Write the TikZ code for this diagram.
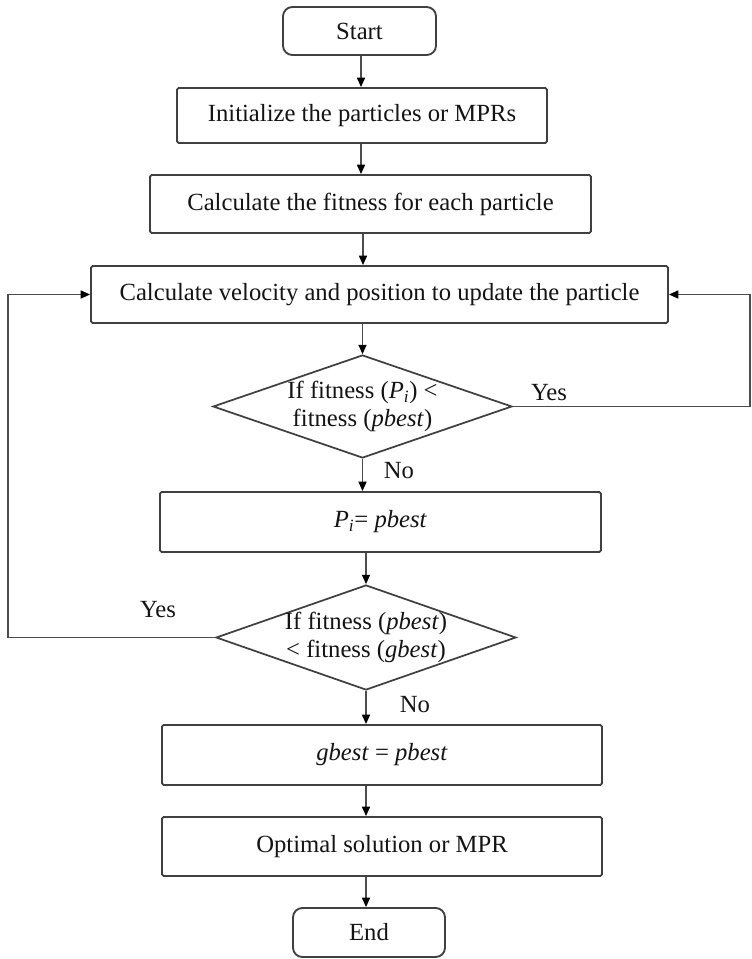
\documentclass[tikz,border=0pt]{standalone}
\usepackage{fontspec}
\setmainfont{Liberation Serif}
\usetikzlibrary{shapes.geometric,arrows.meta}
\newdimen\pxu \pxu=0.75pt
\tikzset{
  every node/.style={font=\fontsize{18.5}{21}\selectfont, text=black!92},
  procbox/.style={draw=black!75, line width=1.4pt, rectangle, rounded corners=1.2pt, fill=white, inner sep=0pt, align=center},
  termbox/.style={draw=black!75, line width=1.4pt, rectangle, rounded corners=7pt, fill=white, inner sep=0pt, align=center},
  decbox/.style={draw=black!75, line width=1.3pt, diamond, fill=white, inner sep=0pt},
  conn/.style={draw=black!70, line width=1.1pt, -{Triangle[length=7pt,width=6pt,fill=black,color=black]}},
  lbl/.style={inner sep=0pt}
}
\newcommand{\itP}{\textit{P}\textsubscript{\textit{i}}}
\begin{document}
\begin{tikzpicture}[x=0.75pt,y=-0.75pt]
\useasboundingbox (0,0) rectangle (752,959);
% nodes
\node[termbox, minimum width=153\pxu, minimum height=48\pxu] (start) at (359.5,31) {Start};
\node[procbox, minimum width=370\pxu, minimum height=55\pxu] (init) at (362,115.5) {Initialize the particles or MPRs};
\node[procbox, minimum width=441\pxu, minimum height=58\pxu] (fit) at (370.5,204) {Calculate the fitness for each particle};
\node[procbox, minimum width=577\pxu, minimum height=57\pxu] (vel) at (379.5,294.5) {Calculate velocity and position to update the particle};
\node[decbox, minimum width=299\pxu, minimum height=103\pxu,
      label={[align=center, inner sep=0pt]center:{If fitness (\itP) <\\fitness (\textit{pbest})}}] (d1) at (362.5,406.5) {};
\node[procbox, minimum width=441\pxu, minimum height=60\pxu] (pi) at (380.5,522) {\itP= \textit{pbest}};
\node[decbox, minimum width=300\pxu, minimum height=105\pxu,
      label={[align=center, inner sep=0pt]center:{If fitness (\textit{pbest})\\< fitness (\textit{gbest})}}] (d2) at (366,637.5) {};
\node[procbox, minimum width=440\pxu, minimum height=60\pxu] (gb) at (382,755) {\textit{gbest} = \textit{pbest}};
\node[procbox, minimum width=440\pxu, minimum height=59\pxu] (opt) at (382,846.5) {Optimal solution or MPR};
\node[termbox, minimum width=152\pxu, minimum height=49\pxu] (end) at (369,932.5) {End};
% labels
\node[lbl] (yes1) at (549,393) {Yes};
\node[lbl] (no1) at (399,471) {No};
\node[lbl] (yes2) at (158,610) {Yes};
\node[lbl] (no2) at (415,705) {No};
% helper coordinates
\coordinate (colA) at (361,0);
\coordinate (colB) at (363,0);
\coordinate (colC) at (366,0);
\coordinate (rt) at (750,294.5);
\coordinate (lt) at (8,294.5);
% connectors
\draw[conn] (start.south -| colA) -- (init.north -| colA);
\draw[conn] (init.south -| colA) -- (fit.north -| colA);
\draw[conn] (fit.south -| colB) -- (vel.north -| colB);
\draw[conn] (vel.south -| d1.north) -- (d1.north);
\draw[conn] (d1.south) -- (pi.north -| d1.south);
\draw[conn] (pi.south -| d2.north) -- (d2.north);
\draw[conn] (d2.south) -- (gb.north -| d2.south);
\draw[conn] (gb.south -| colC) -- (opt.north -| colC);
\draw[conn] (opt.south -| colC) -- (end.north -| colC);
\draw[conn] (d1.east) -| (rt) -- (vel.east);
\draw[conn] (d2.west) -| (lt) -- (vel.west);
\end{tikzpicture}
\end{document}
